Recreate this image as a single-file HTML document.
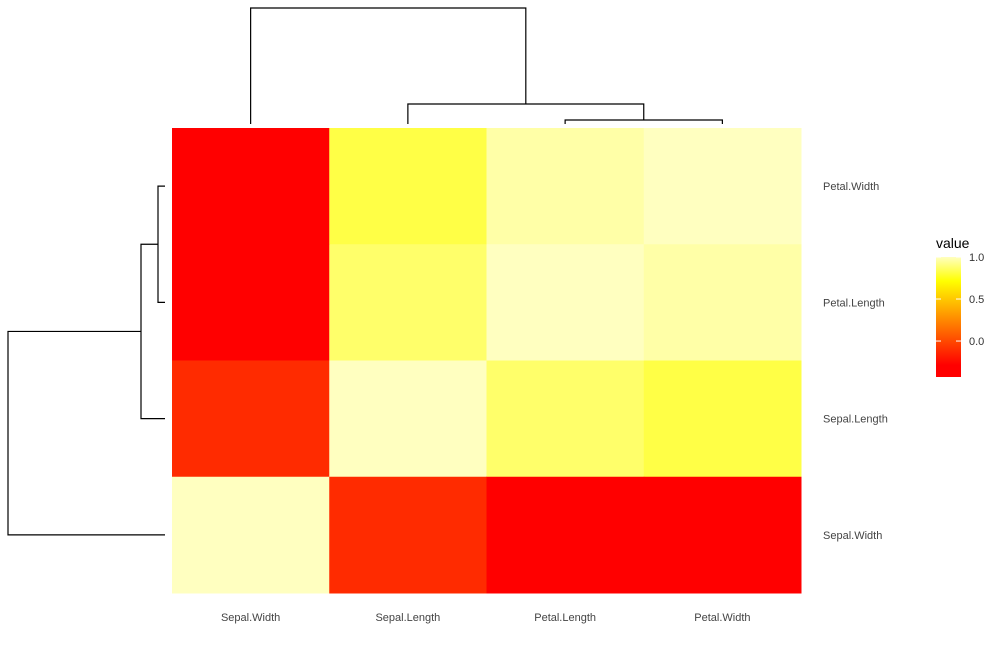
<!DOCTYPE html>
<html><head><meta charset="utf-8"><style>
body{margin:0;background:#fff;font-family:"Liberation Sans",Arial,sans-serif}
svg{display:block}
</style></head><body>
<svg id="chart" width="1000" height="650" xmlns="http://www.w3.org/2000/svg">
<defs><linearGradient id="lg" x1="0" y1="1" x2="0" y2="0">
<stop offset="0" stop-color="#FF0000"/><stop offset="0.1" stop-color="#FF0000"/><stop offset="0.8" stop-color="#FFFF00"/><stop offset="1" stop-color="#FFFFC0"/>
</linearGradient></defs>
<g id="cells"></g>
<g id="labels"></g>
<g id="dendro" stroke="#000" stroke-width="1.2" fill="none"></g>
<g>
<text x="936" y="248" font-size="14" fill="#000">value</text>
<rect x="936" y="257" width="25" height="120" fill="url(#lg)"/>
<g id="legticks"></g>
</g>
</svg>
<script>
const cols = ["Sepal.Width","Sepal.Length","Petal.Length","Petal.Width"];
const rows = ["Petal.Width","Petal.Length","Sepal.Length","Sepal.Width"];
const values = [
 [-0.366, 0.818, 0.963, 1.000],
 [-0.428, 0.872, 1.000, 0.963],
 [-0.118, 1.000, 0.872, 0.818],
 [ 1.000,-0.118,-0.428,-0.366]
];
const legendTicks = [0.0, 0.5, 1.0];
const NS="http://www.w3.org/2000/svg";
const vmin=-0.428, vmax=1.0;
const x0=172,x1=801,y0=128,y1=593;
const cw=(x1-x0)/cols.length, ch=(y1-y0)/rows.length;
const xPos=i=>x0+i*cw, yPos=j=>y0+j*ch;
function color(v){
  const t=(v-vmin)/(vmax-vmin);
  let r=255,g,b;
  if(t<=0.1){g=0;b=0;}
  else if(t<=0.8){g=255*(t-0.1)/0.7;b=0;}else{g=255;b=192*(t-0.8)/0.2;}
  return `rgb(${r},${Math.round(g)},${Math.round(b)})`;
}
function mk(tag,attrs,parent){const e=document.createElementNS(NS,tag);for(const k in attrs)e.setAttribute(k,attrs[k]);parent.appendChild(e);return e;}
const cells=document.getElementById('cells');
values.forEach((row,j)=>row.forEach((v,i)=>{
  const r=mk('rect',{x:xPos(i),y:yPos(j),width:cw+0.5,height:ch+0.5,fill:color(v)},cells);
  
  
}));
const lab=document.getElementById('labels');
cols.forEach((c,i)=>{
  const t=mk('text',{x:xPos(i)+cw/2,y:621,'font-size':11,fill:'#444','text-anchor':'middle'},lab);t.textContent=c;
  
  
});
rows.forEach((r,j)=>{
  const t=mk('text',{x:823,y:yPos(j)+ch/2+4,'font-size':11,fill:'#444'},lab);t.textContent=r;
  
  
});
const lt=document.getElementById('legticks');
const ly=v=>377-(v-vmin)/(vmax-vmin)*120;
legendTicks.forEach(v=>{
  mk('line',{x1:936,x2:941,y1:ly(v),y2:ly(v),stroke:'#fff'},lt);
  mk('line',{x1:956,x2:961,y1:ly(v),y2:ly(v),stroke:'#fff'},lt);
  const t=mk('text',{x:969,y:ly(v)+4,'font-size':11,fill:'#333'},lt);t.textContent=v.toFixed(1);
  
  
});
const d=document.getElementById('dendro');
const cx=i=>xPos(i)+cw/2, cy=j=>yPos(j)+ch/2;
function path(p,name){const e=mk('path',{d:p},d);}
const m1=(cx(2)+cx(3))/2, m2=(cx(1)+m1)/2;
path(`M${cx(2)},124V120H${cx(3)}V124`,'top-dendro-merge-1');
path(`M${cx(1)},124V104H${m1}V120`,'top-dendro-merge-2');
path(`M${cx(0)},124V8H${m2}V104`,'top-dendro-merge-3');
const n1=(cy(0)+cy(1))/2, n2=(n1+cy(2))/2;
path(`M165,${cy(0)}H158V${cy(1)}H165`,'left-dendro-merge-1');
path(`M158,${n1}H141V${cy(2)}H165`,'left-dendro-merge-2');
path(`M141,${n2}H8V${cy(3)}H165`,'left-dendro-merge-3');
</script>
</body></html>
